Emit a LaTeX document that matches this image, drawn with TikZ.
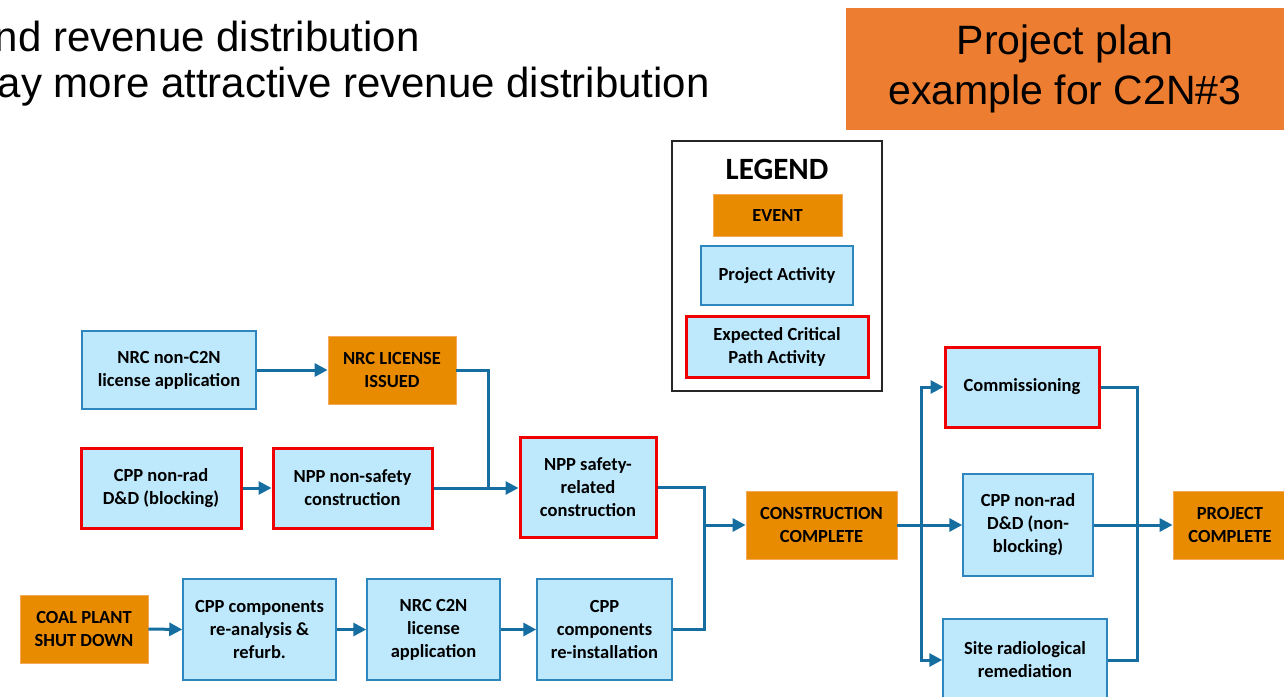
\documentclass[tikz,border=0pt]{standalone}
\usepackage{fontspec}
\setmainfont{Liberation Sans}
\newfontfamily\calfont{Carlito}
\usetikzlibrary{arrows.meta}
\definecolor{actfill}{RGB}{190,232,251}
\definecolor{actline}{RGB}{46,134,190}
\definecolor{evfill}{RGB}{233,139,0}
\definecolor{evline}{RGB}{245,170,90}
\definecolor{critline}{RGB}{240,0,0}
\definecolor{conn}{RGB}{22,110,160}
\definecolor{titlefill}{RGB}{237,125,49}
\tikzset{
  box/.style={inner sep=0pt, align=center, font=\calfont\bfseries\fontsize{18.5}{23}\selectfont, text=black},
  actbox/.style={box, fill=actfill, draw=actline, line width=1.5pt},
  critbox/.style={box, fill=actfill, draw=critline, line width=3pt},
  evbox/.style={box, fill=evfill, draw=evline, line width=0.8pt},
  wire/.style={draw=conn, line width=3pt},
  arr/.style={wire, -{Triangle[length=13pt,width=13pt]}},
}
\begin{document}
\begin{tikzpicture}[x=1pt,y=-1pt]
\useasboundingbox (0,0) rectangle (1284,696);
% header text
\node[anchor=base east, font=\fontsize{42}{48}\selectfont, inner sep=0pt] (l2) at (420,51) {nd revenue distribution};
\node[anchor=base east, font=\fontsize{42}{48}\selectfont, inner sep=0pt] (l3) at (710,97) {ay more attractive revenue distribution};
\node[fill=titlefill, minimum width=438pt, minimum height=122pt, inner sep=0pt, align=center, font=\fontsize{41}{50}\selectfont] (title) at (1065,69) {Project plan\\example for C2N\#3};
% legend
\node[draw=black!85, line width=1.8pt, minimum width=210pt, minimum height=250pt, inner sep=0pt] (legend) at (777,266) {};
\node[font=\calfont\bfseries\fontsize{31}{36}\selectfont, inner sep=0pt] (legt) at (777,169) {LEGEND};
\node[evbox, minimum width=129pt, minimum height=42pt] (lev) at (777.5,215) {EVENT};
\node[actbox, minimum width=152pt, minimum height=59pt] (lact) at (777,275.5) {Project Activity};
\node[critbox, minimum width=182pt, minimum height=61pt] (lcrit) at (777,346.5) {Expected Critical\\Path Activity};
% nodes
\node[actbox, minimum width=174pt, minimum height=78pt] (nrcapp) at (169,370) {NRC non-C2N\\license application};
\node[evbox, minimum width=128pt, minimum height=68pt] (nrclic) at (392,370) {NRC LICENSE\\ISSUED};
\node[critbox, minimum width=160pt, minimum height=80pt] (cppblk) at (161,488) {CPP non-rad\\D\&D (blocking)};
\node[critbox, minimum width=159pt, minimum height=80pt] (nppns) at (352.5,488) {NPP non-safety\\construction};
\node[critbox, minimum width=136pt, minimum height=100pt] (nppsr) at (588,487) {NPP safety-\\related\\construction};
\node[evbox, minimum width=128pt, minimum height=68pt] (coal) at (84,629) {COAL PLANT\\SHUT DOWN};
\node[actbox, minimum width=153pt, minimum height=101pt] (reana) at (259.5,629.5) {CPP components\\re-analysis \&\\refurb.};
\node[actbox, minimum width=133pt, minimum height=101pt] (c2napp) at (433.5,629.5) {NRC C2N\\license\\application};
\node[actbox, minimum width=135pt, minimum height=101pt] (reinst) at (604.5,629.5) {CPP\\components\\re-installation};
\node[evbox, minimum width=151pt, minimum height=68pt] (constr) at (821.5,525) {CONSTRUCTION\\COMPLETE};
\node[critbox, minimum width=154pt, minimum height=80pt] (comm) at (1022,387) {Commissioning};
\node[actbox, minimum width=130pt, minimum height=102pt] (cppnb) at (1028,525) {CPP non-rad\\D\&D (non-\\blocking)};
\node[actbox, minimum width=164pt, minimum height=82pt] (site) at (1025,660) {};
\node[box] (sitet) at (1025,660) {Site radiological\\remediation};
\node[evbox, minimum width=114pt, minimum height=68pt] (projc) at (1230,525) {PROJECT\\COMPLETE};
% junction coordinates
\coordinate (j1) at (488,488);
\coordinate (j2) at (704,525);
\coordinate (j3) at (921,525);
\coordinate (j4) at (1137,525);
% connectors
\draw[arr] (nrcapp.east) -- (nrclic.west);
\draw[arr] (cppblk.east) -- (nppns.west);
\draw[wire] (nrclic.east) -| (j1);
\draw[arr] (nppns.east) -- (nppsr.west |- j1);
\draw[wire] (nppsr.east) -| (j2);
\draw[wire] (reinst.east) -| (j2);
\draw[arr] (j2) -- (constr.west);
\draw[arr] (coal.east) -- (reana.west);
\draw[arr] (reana.east) -- (c2napp.west);
\draw[arr] (c2napp.east) -- (reinst.west);
\draw[arr] (constr.east) -- (cppnb.west);
\draw[arr] (j3) |- (comm.west);
\draw[arr] (j3) |- (site.west);
\draw[wire] (comm.east) -| (j4);
\draw[wire] (site.east) -| (j4);
\draw[arr] (cppnb.east) -- (projc.west);
\end{tikzpicture}
\end{document}
